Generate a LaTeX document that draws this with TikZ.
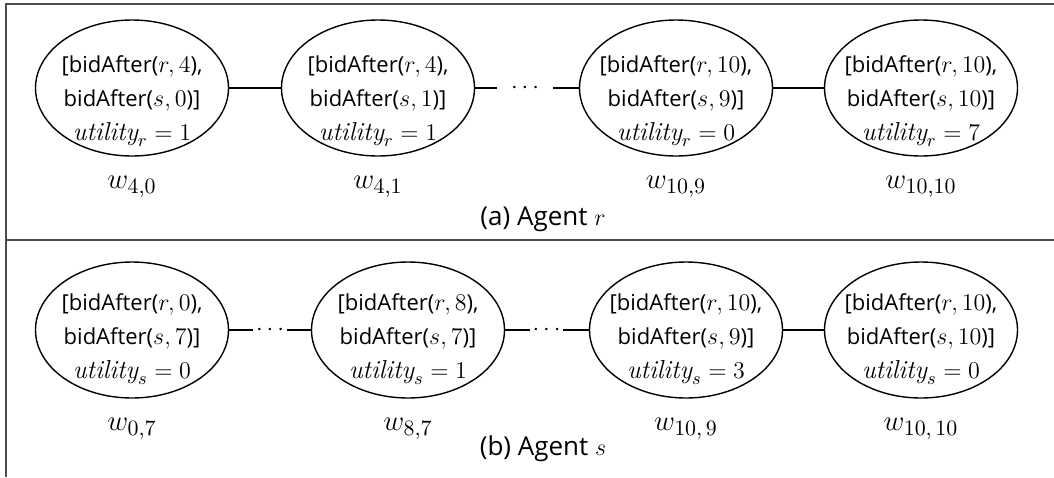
\documentclass[tikz,border=0pt]{standalone}
\usepackage{fontspec}
\setsansfont{Open Sans}
\usetikzlibrary{shapes.geometric}
\newcommand{\mth}[1]{{\fontsize{13}{15}\selectfont$#1$}}
\newcommand{\ut}[2]{\mth{\mathit{utility}_{#1}=#2}}
\begin{document}
\begin{tikzpicture}[x=0.5pt,y=-0.5pt,
  world/.style={draw, line width=0.7pt, ellipse, minimum width=96.5pt, minimum height=68pt, inner sep=0pt},
  wtext/.style={inner sep=0pt, align=center, font=\sffamily\fontsize{11}{17}\selectfont},
  wlabel/.style={font=\fontsize{15}{17}\selectfont},
  capt/.style={font=\sffamily\fontsize{13}{15}\selectfont},
  dotsnode/.style={inner sep=0pt, minimum height=10pt, font=\fontsize{12}{14}\selectfont},
  link/.style={line width=0.6pt},
  frame/.style={line width=1.1pt, black!70}]
\useasboundingbox (0,0) rectangle (1054,477);
% frames
\coordinate (tl) at (6,4);
\coordinate (tr) at (1054,4);
\coordinate (ml) at (6,240);
\coordinate (mr) at (1054,240);
\coordinate (bl) at (6,477);
\draw[frame] (tr) -- (tl) -- (bl);
\draw[frame] (ml) -- (mr);
% top row
\node[world] (a1) at (132,88) {};
\node[world] (a2) at (378,88) {};
\node[world] (a3) at (676,88) {};
\node[world] (a4) at (921,88) {};
\node[wtext] (a1t) at (132,101) {[bidAfter(\mth{r,4}),\\ bidAfter(\mth{s,0})]\\ \ut{r}{1}};
\node[wtext] (a2t) at (378,101) {[bidAfter(\mth{r,4}),\\ bidAfter(\mth{s,1})]\\ \ut{r}{1}};
\node[wtext] (a3t) at (676,101) {[bidAfter(\mth{r,10}),\\ bidAfter(\mth{s,9})]\\ \ut{r}{0}};
\node[wtext] (a4t) at (921,101) {[bidAfter(\mth{r,10}),\\ bidAfter(\mth{s,10})]\\ \ut{r}{7}};
\node[dotsnode, minimum width=28pt] (ad) at (525,88) {$\cdots$};
\draw[link] (a1) -- (a2);
\draw[link] (a2) -- (ad);
\draw[link] (ad) -- (a3);
\draw[link] (a3) -- (a4);
\node[wlabel] (la1) at (132,187) {$w_{4,0}$};
\node[wlabel] (la2) at (378,187) {$w_{4,1}$};
\node[wlabel] (la3) at (676,187) {$w_{10,9}$};
\node[wlabel] (la4) at (921,187) {$w_{10,10}$};
\node[capt] (ca) at (543,219) {(a) Agent \mth{r}};
% bottom row
\node[world] (b1) at (132,330) {};
\node[world] (b2) at (408,330) {};
\node[world] (b3) at (686,330) {};
\node[world] (b4) at (921,330) {};
\node[wtext] (b1t) at (132,339) {[bidAfter(\mth{r,0}),\\ bidAfter(\mth{s,7})]\\ \ut{s}{0}};
\node[wtext] (b2t) at (408,339) {[bidAfter(\mth{r,8}),\\ bidAfter(\mth{s,7})]\\ \ut{s}{1}};
\node[wtext] (b3t) at (686,339) {[bidAfter(\mth{r,10}),\\ bidAfter(\mth{s,9})]\\ \ut{s}{3}};
\node[wtext] (b4t) at (921,339) {[bidAfter(\mth{r,10}),\\ bidAfter(\mth{s,10})]\\ \ut{s}{0}};
\node[dotsnode, minimum width=17pt] (bd1) at (270,330) {$\cdots$};
\node[dotsnode, minimum width=16.5pt] (bd2) at (546.5,330) {$\cdots$};
\draw[link] (b1) -- (bd1);
\draw[link] (bd1) -- (b2);
\draw[link] (b2) -- (bd2);
\draw[link] (bd2) -- (b3);
\draw[link] (b3) -- (b4);
\node[wlabel] (lb1) at (132,429) {$w_{0,7}$};
\node[wlabel] (lb2) at (408,429) {$w_{8,7}$};
\node[wlabel] (lb3) at (686,429) {$w_{10,\,9}$};
\node[wlabel] (lb4) at (921,429) {$w_{10,\,10}$};
\node[capt] (cb) at (543,449) {(b) Agent \mth{s}};
\end{tikzpicture}
\end{document}
